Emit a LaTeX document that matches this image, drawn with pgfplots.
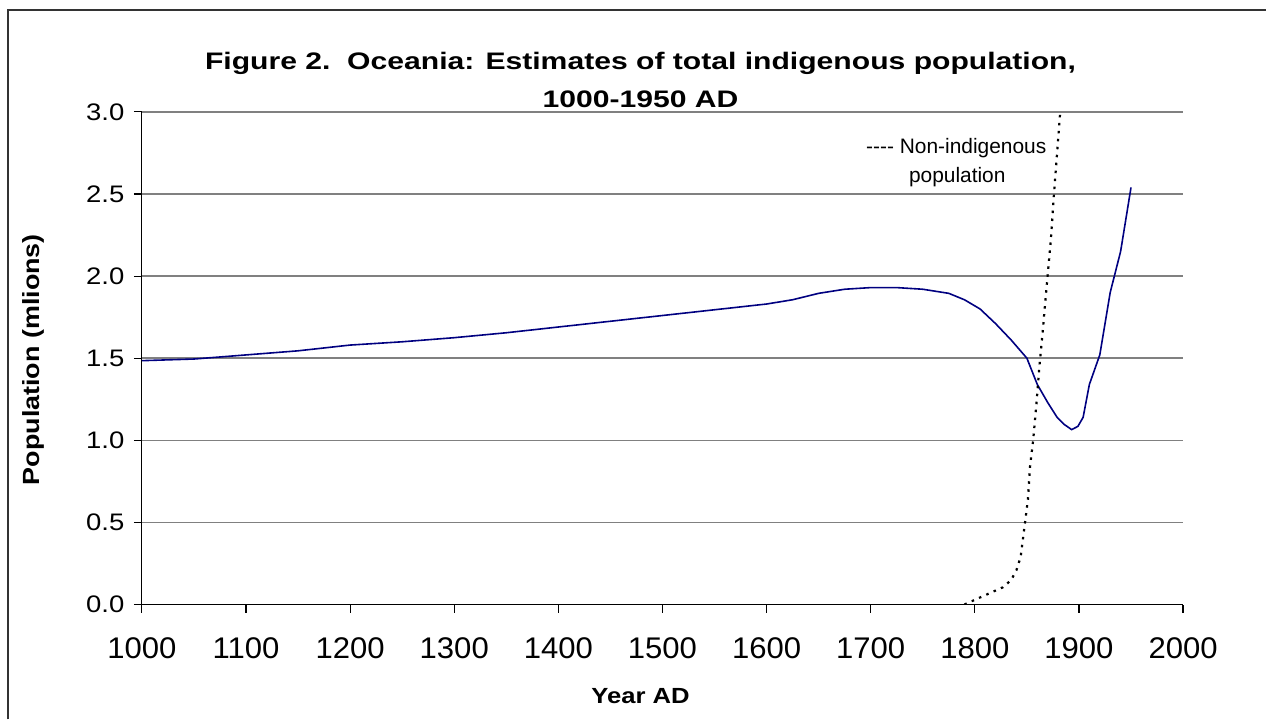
\documentclass[border=0pt]{standalone}
\usepackage{fontspec}
\setmainfont{Liberation Sans}
\newfontfamily\titlefont[FakeStretch=1.26]{Liberation Sans}
\newfontfamily\ylabfont[FakeStretch=1.15]{Liberation Sans}
\newfontfamily\xlabfont[FakeStretch=1.17]{Liberation Sans}
\newfontfamily\yticfont[FakeStretch=1.15]{Liberation Sans}
\newfontfamily\xticfont[FakeStretch=1.04]{Liberation Sans}
\usepackage{pgfplots}
\pgfplotsset{compat=1.18}
\definecolor{navyline}{RGB}{0,0,128}
\begin{document}
\begin{tikzpicture}[x=1bp,y=1bp]
\path (0,0) rectangle (1267,720);
\draw[line width=2bp,black!80] (8,0) -- (8,710) -- (1267,710);
\begin{axis}[
  at={(142bp,115bp)}, anchor=south west,
  scale only axis, width=1042bp, height=493bp,
  xmin=1000, xmax=2000, ymin=0, ymax=3,
  xtick={1000,1100,...,2000},
  ytick={0,0.5,...,3},
  axis x line*=bottom, axis y line*=left,
  axis line style={line width=1.2bp,black},
  tick style={line width=1.2bp,black},
  tick align=outside, major tick length=8bp,
  ymajorgrids, grid style={line width=1.5bp,black!50},
  /pgf/number format/assume math mode=true,
  /pgf/number format/set thousands separator={},
  yticklabel style={/pgf/number format/fixed,/pgf/number format/fixed zerofill,/pgf/number format/precision=1,
     font=\yticfont\fontsize{24}{28}\selectfont, xshift=-6bp},
  xticklabel style={font=\xticfont\fontsize{30}{34}\selectfont, yshift=-22bp},
  clip=true,
]
\addplot[navyline, line width=1.6bp] coordinates {
(1000,1.485) (1050,1.495) (1100,1.52) (1150,1.545) (1200,1.58) (1250,1.60)
(1300,1.625) (1350,1.655) (1400,1.69) (1450,1.725) (1500,1.76) (1550,1.795)
(1600,1.83) (1625,1.856) (1650,1.895) (1675,1.92) (1700,1.93) (1725,1.93)
(1750,1.92) (1775,1.895) (1790,1.856) (1805,1.80) (1820,1.71) (1835,1.61)
(1850,1.50) (1860,1.34) (1870,1.23) (1879,1.14) (1886,1.096) (1893,1.065)
(1899,1.085) (1904,1.14) (1910,1.34) (1920,1.52) (1930,1.90) (1940,2.15) (1950,2.54)
};
\addplot[black, line width=2.2bp, dash pattern=on 2.5bp off 5.5bp] coordinates {
(1790,0) (1804,0.04) (1827,0.105) (1835,0.15) (1840,0.21) (1844,0.29)
(1848,0.49) (1851,0.64) (1853,0.84) (1856,1.0) (1859,1.21) (1862,1.45)
(1865,1.65) (1869,1.94) (1873,2.22) (1876,2.5) (1879,2.75) (1882,3.0) (1885,3.3)
};
\end{axis}
\node[font=\titlefont\bfseries\fontsize{24}{28}\selectfont, anchor=base] at (641,650) {Figure 2.\ \ Oceania: Estimates of total indigenous population,};
\node[font=\titlefont\bfseries\fontsize{24}{28}\selectfont, anchor=base] at (641,612) {1000-1950 AD};
\node[font=\fontsize{21}{25}\selectfont, anchor=base] at (957,566) {\mbox{-}\mbox{-}\mbox{-}\mbox{-} Non-indigenous};
\node[font=\fontsize{21}{25}\selectfont, anchor=base] at (958,537) {population};
\node[font=\ylabfont\bfseries\fontsize{23.5}{27}\selectfont, rotate=90] at (33,360) {Population (mlions)};
\node[font=\xlabfont\bfseries\fontsize{22}{26}\selectfont, anchor=base] at (641,16) {Year AD};
\end{tikzpicture}
\end{document}
